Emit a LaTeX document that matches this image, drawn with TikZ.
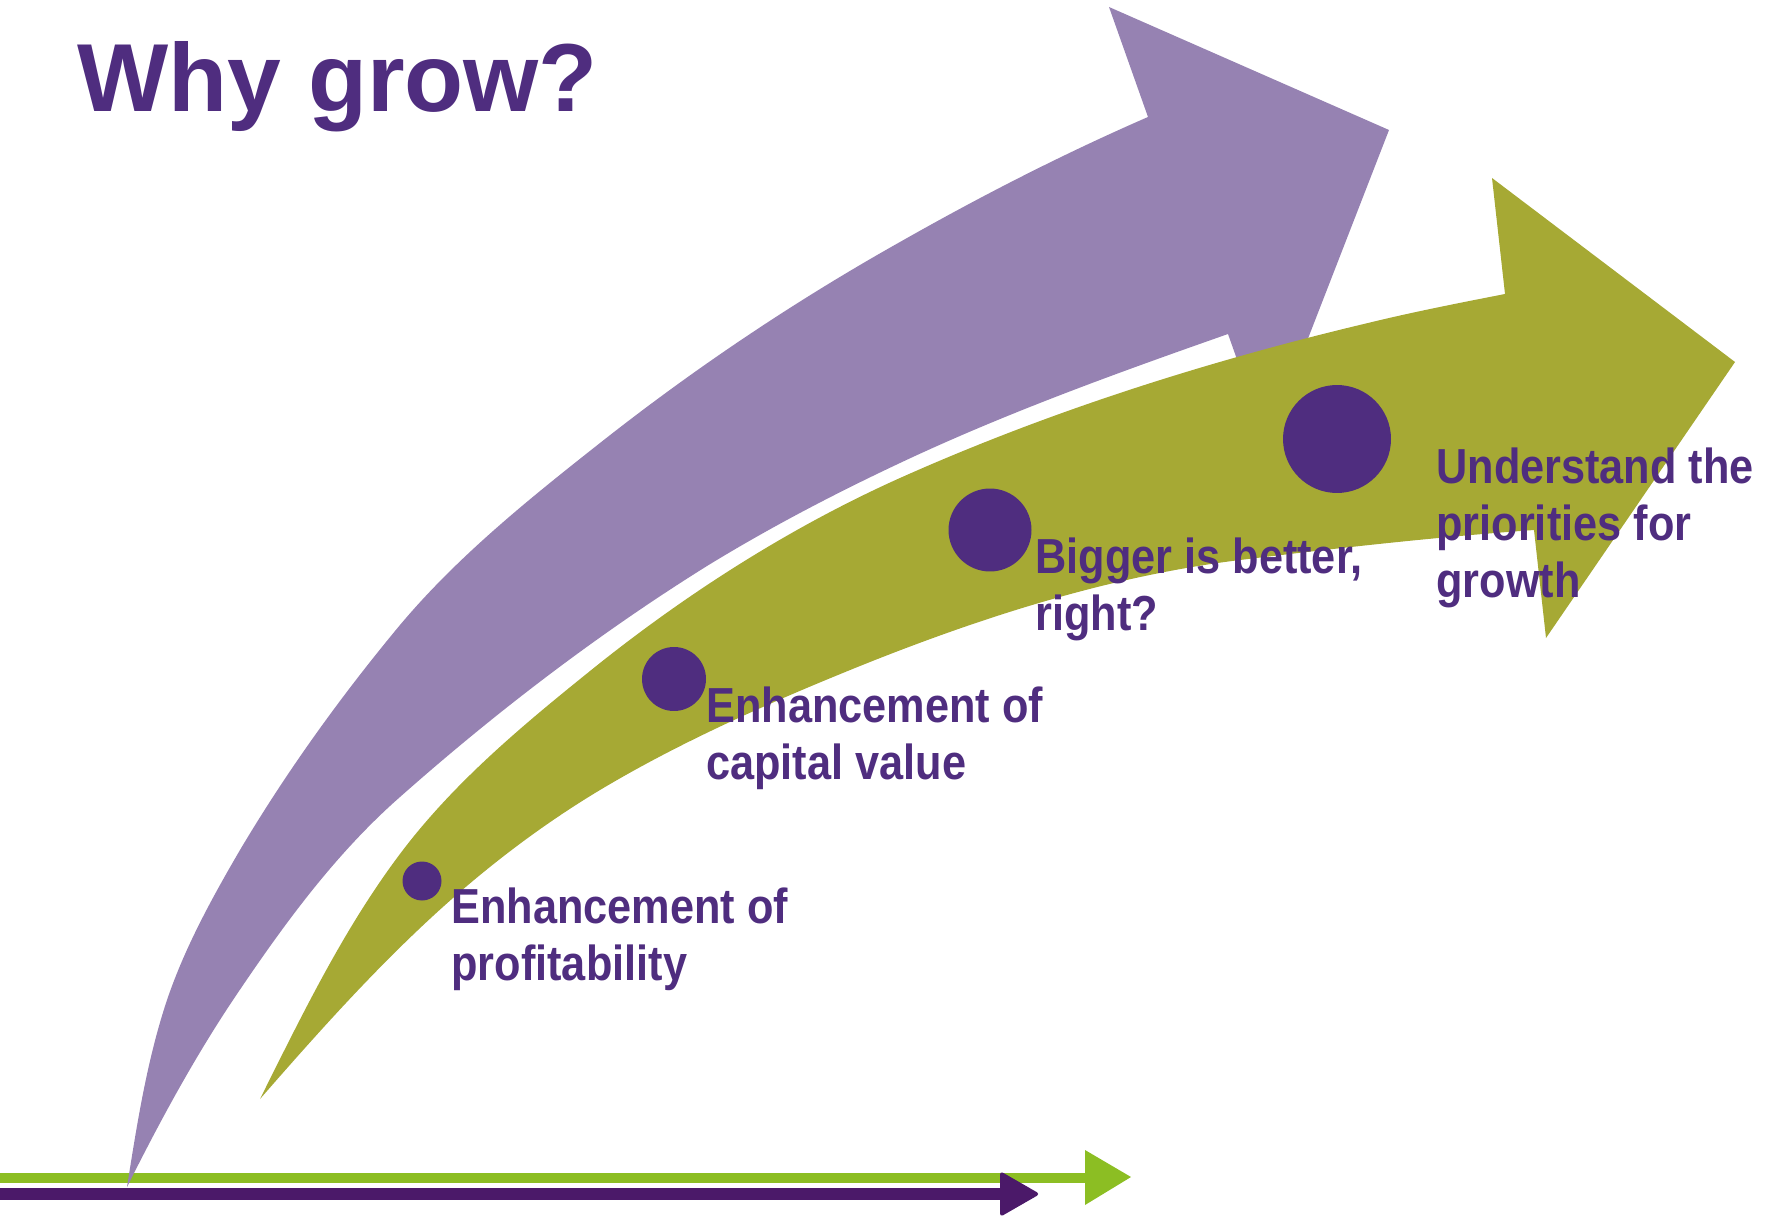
\documentclass[tikz,border=0pt]{standalone}
\usepackage{fontspec}
\setmainfont{Liberation Sans}
\newfontfamily\labelfont{Liberation Sans}[FakeStretch=0.88]

\definecolor{arrowviolet}{HTML}{9682B2}
\definecolor{arrowgreen}{HTML}{A6A934}
\definecolor{darkviolet}{HTML}{4F2D7F}
\definecolor{linegreen}{HTML}{8CBE23}
\definecolor{lineviolet}{HTML}{4B1969}

\tikzset{
  dot/.style={circle, fill=darkviolet, inner sep=0pt},
  stagetext/.style={anchor=base west, inner sep=0pt, align=left, text=darkviolet,
    font=\labelfont\bfseries\fontsize{28pt}{32.4pt}\selectfont},
}

\begin{document}
\begin{tikzpicture}[x=0.02cm, y=-0.02cm]
  \useasboundingbox (0,0) rectangle (1768,1216);

  % time line at the bottom
  \fill[linegreen] (0,1173) rectangle (1086,1183);
  \fill[linegreen] (1085,1150) -- (1131,1177) -- (1085,1205) -- cycle;
  \fill[lineviolet] (0,1188) rectangle (1002,1200);
  \fill[lineviolet, rounded corners=2pt] (1000,1171) -- (1040,1194) -- (1000,1217) -- cycle;

  % big violet arrow
  \fill[arrowviolet] (127,1187) .. controls (137,1124) and (147,1060) .. (167,1000)
    .. controls (185,947) and (212,898) .. (240,850)
    .. controls (287,771) and (341,696) .. (400,625)
    .. controls (458,556) and (529,499) .. (600,443)
    .. controls (695,368) and (795,301) .. (900,242)
    .. controls (981,196) and (1063,154) .. (1148,117)
    -- (1109,7) -- (1389,130) -- (1267,444) -- (1228,334)
    .. controls (1117,373) and (1006,413) .. (900,463)
    .. controls (834,494) and (769,528) .. (707,566)
    .. controls (598,634) and (496,712) .. (400,797)
    .. controls (334,855) and (282,927) .. (233,1000)
    .. controls (193,1060) and (159,1123) .. (127,1187) -- cycle;

  % green arrow in front
  \fill[arrowgreen] (260,1099) .. controls (303,1013) and (345,926) .. (403,850)
    .. controls (458,778) and (529,720) .. (600,663)
    .. controls (692,590) and (793,526) .. (900,478)
    .. controls (1050,411) and (1208,361) .. (1368,323)
    .. controls (1413,312) and (1459,303) .. (1505,294)
    -- (1492,178) -- (1735,362) -- (1546,638) -- (1534,530)
    .. controls (1436,537) and (1338,548) .. (1240,560)
    .. controls (1110,576) and (982,617) .. (860,666)
    .. controls (771,702) and (682,741) .. (600,790)
    .. controls (540,826) and (484,869) .. (433,916)
    .. controls (371,973) and (315,1036) .. (260,1099) -- cycle;

  % title
  \node[anchor=base west, inner sep=0pt, text=darkviolet,
    font=\bfseries\fontsize{55pt}{60pt}\selectfont] (title) at (77,112) {Why grow?};

  % stages along the green arrow
  \node[dot, minimum size=0.78cm] (d1) at (422,881) {};
  \node[dot, minimum size=1.28cm] (d2) at (674,679) {};
  \node[dot, minimum size=1.66cm] (d3) at (990,530) {};
  \node[dot, minimum size=2.16cm] (d4) at (1337,439) {};

  % anchors sit on the last line of each text
  \node[stagetext] (s1) at (451,980) {Enhancement of\\profitability};
  \node[stagetext] (s2) at (706,779) {Enhancement of\\capital value};
  \node[stagetext] (s3) at (1035,630) {Bigger is better,\\right?};
  \node[stagetext] (s4) at (1436,597) {Understand the\\priorities for\\growth};
\end{tikzpicture}
\end{document}
